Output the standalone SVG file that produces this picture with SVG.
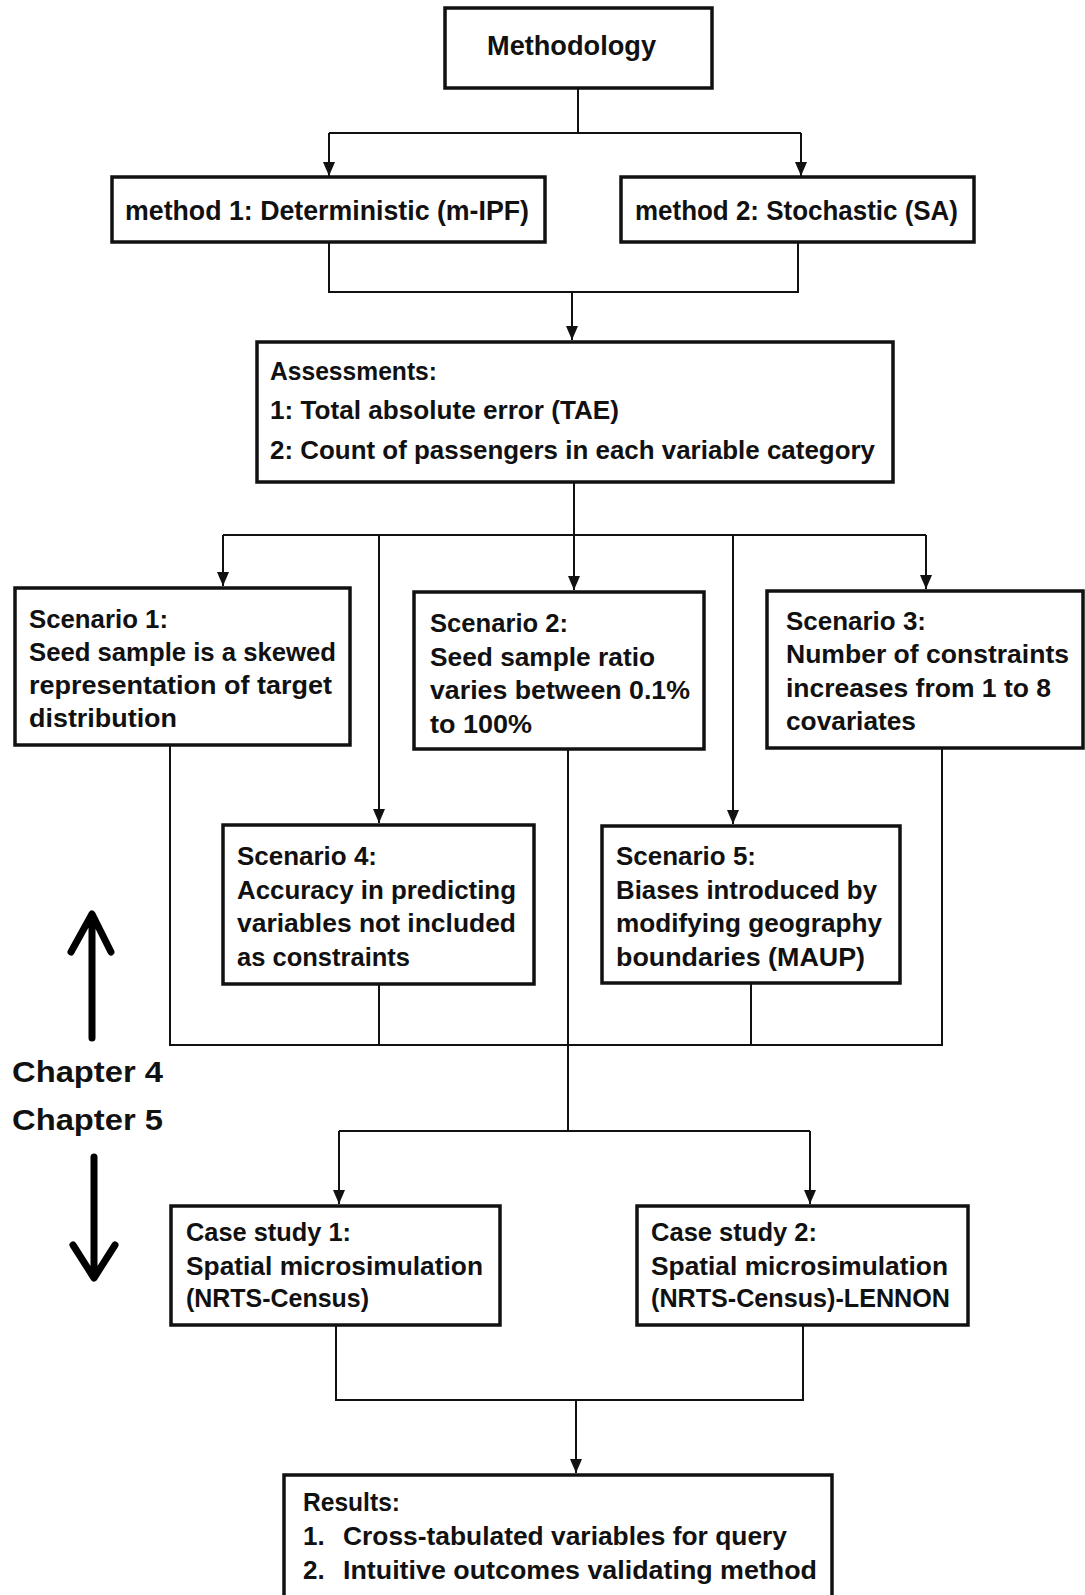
<svg xmlns="http://www.w3.org/2000/svg" width="1085" height="1595" viewBox="0 0 1085 1595">
  <style>
    .box { fill: #ffffff; stroke: #111111; stroke-width: 3.5; }
    .t { font-family: "Liberation Sans", Arial, sans-serif; font-weight: bold; font-size: 26px; fill: #111111; }
    .big { font-size: 27px; }
    .chap { font-size: 30px; }
    .link { fill: none; stroke: #111111; stroke-width: 2; }
    .flow { fill: none; stroke: #000000; stroke-width: 7; stroke-linecap: round; stroke-linejoin: round; }
  </style>
  <defs>
    <marker id="arrow" viewBox="0 0 14 12" refX="14" refY="6" markerWidth="14" markerHeight="12" markerUnits="userSpaceOnUse" orient="auto">
      <path d="M0,0 L14,6 L0,12 z" fill="#111111"/>
    </marker>
  </defs>
  <rect width="1085" height="1595" fill="#ffffff"/>

  <!-- connectors -->
  <g id="connectors">
    <path class="link" d="M578,88 V133 M329,133 H801"/>
    <path class="link" d="M329,133 V176" marker-end="url(#arrow)"/>
    <path class="link" d="M801,133 V176" marker-end="url(#arrow)"/>

    <path class="link" d="M329,242 V292 H798 V242"/>
    <path class="link" d="M572,292 V340" marker-end="url(#arrow)"/>

    <path class="link" d="M574,482 V590" marker-end="url(#arrow)"/>
    <path class="link" d="M223,535 H926"/>
    <path class="link" d="M223,535 V586" marker-end="url(#arrow)"/>
    <path class="link" d="M379,535 V823" marker-end="url(#arrow)"/>
    <path class="link" d="M733,535 V824" marker-end="url(#arrow)"/>
    <path class="link" d="M926,535 V589" marker-end="url(#arrow)"/>

    <path class="link" d="M170,745 V1045 H942 V748"/>
    <path class="link" d="M379,984 V1045 M751,983 V1045"/>
    <path class="link" d="M568,749 V1131 M339,1131 H810"/>
    <path class="link" d="M339,1131 V1204" marker-end="url(#arrow)"/>
    <path class="link" d="M810,1131 V1204" marker-end="url(#arrow)"/>

    <path class="link" d="M336,1325 V1400 H803 V1325"/>
    <path class="link" d="M576,1400 V1473" marker-end="url(#arrow)"/>
  </g>

  <g id="methodology">
    <rect class="box" x="445" y="8" width="267" height="80"/>
    <text class="t big" x="487" y="55" textLength="169" lengthAdjust="spacingAndGlyphs">Methodology</text>
  </g>

  <g id="method-1">
    <rect class="box" x="112" y="177" width="433" height="65"/>
    <text class="t big" x="125" y="220" textLength="404" lengthAdjust="spacingAndGlyphs">method 1: Deterministic (m-IPF)</text>
  </g>

  <g id="method-2">
    <rect class="box" x="621" y="177" width="353" height="65"/>
    <text class="t big" x="635" y="220" textLength="323" lengthAdjust="spacingAndGlyphs">method 2: Stochastic (SA)</text>
  </g>

  <g id="assessments">
    <rect class="box" x="257" y="342" width="636" height="140"/>
    <text class="t" x="270" y="380" textLength="167" lengthAdjust="spacingAndGlyphs">Assessments:</text>
    <text class="t" x="270" y="419" textLength="349" lengthAdjust="spacingAndGlyphs">1: Total absolute error (TAE)</text>
    <text class="t" x="270" y="459" textLength="605" lengthAdjust="spacingAndGlyphs">2: Count of passengers in each variable category</text>
  </g>

  <g id="scenario-1">
    <rect class="box" x="15" y="588" width="335" height="157"/>
    <text class="t" x="29" y="628" textLength="139" lengthAdjust="spacingAndGlyphs">Scenario 1:</text>
    <text class="t" x="29" y="661" textLength="307" lengthAdjust="spacingAndGlyphs">Seed sample is a skewed</text>
    <text class="t" x="29" y="694" textLength="303" lengthAdjust="spacingAndGlyphs">representation of target</text>
    <text class="t" x="29" y="727" textLength="148" lengthAdjust="spacingAndGlyphs">distribution</text>
  </g>

  <g id="scenario-2">
    <rect class="box" x="414" y="592" width="290" height="157"/>
    <text class="t" x="430" y="632" textLength="138" lengthAdjust="spacingAndGlyphs">Scenario 2:</text>
    <text class="t" x="430" y="665.5" textLength="225" lengthAdjust="spacingAndGlyphs">Seed sample ratio</text>
    <text class="t" x="430" y="699" textLength="260" lengthAdjust="spacingAndGlyphs">varies between 0.1%</text>
    <text class="t" x="430" y="732.5" textLength="102" lengthAdjust="spacingAndGlyphs">to 100%</text>
  </g>

  <g id="scenario-3">
    <rect class="box" x="767" y="591" width="316" height="157"/>
    <text class="t" x="786" y="630" textLength="140" lengthAdjust="spacingAndGlyphs">Scenario 3:</text>
    <text class="t" x="786" y="663" textLength="283" lengthAdjust="spacingAndGlyphs">Number of constraints</text>
    <text class="t" x="786" y="697" textLength="265" lengthAdjust="spacingAndGlyphs">increases from 1 to 8</text>
    <text class="t" x="786" y="730" textLength="130" lengthAdjust="spacingAndGlyphs">covariates</text>
  </g>

  <g id="scenario-4">
    <rect class="box" x="223" y="825" width="311" height="159"/>
    <text class="t" x="237" y="865" textLength="140" lengthAdjust="spacingAndGlyphs">Scenario 4:</text>
    <text class="t" x="237" y="898.5" textLength="279" lengthAdjust="spacingAndGlyphs">Accuracy in predicting</text>
    <text class="t" x="237" y="932" textLength="279" lengthAdjust="spacingAndGlyphs">variables not included</text>
    <text class="t" x="237" y="966" textLength="173" lengthAdjust="spacingAndGlyphs">as constraints</text>
  </g>

  <g id="scenario-5">
    <rect class="box" x="602" y="826" width="298" height="157"/>
    <text class="t" x="616" y="865" textLength="140" lengthAdjust="spacingAndGlyphs">Scenario 5:</text>
    <text class="t" x="616" y="898.5" textLength="261" lengthAdjust="spacingAndGlyphs">Biases introduced by</text>
    <text class="t" x="616" y="932" textLength="266" lengthAdjust="spacingAndGlyphs">modifying geography</text>
    <text class="t" x="616" y="966" textLength="249" lengthAdjust="spacingAndGlyphs">boundaries (MAUP)</text>
  </g>

  <g id="chapter-markers">
    <path class="flow" d="M92,1038 V916 M71,952 L92,914 L111,952"/>
    <text class="t chap" x="12" y="1082" textLength="151" lengthAdjust="spacingAndGlyphs">Chapter 4</text>
    <text class="t chap" x="12" y="1130" textLength="151" lengthAdjust="spacingAndGlyphs">Chapter 5</text>
    <path class="flow" d="M94,1157 V1276 M73,1245 L94,1278 L115,1245"/>
  </g>

  <g id="case-study-1">
    <rect class="box" x="171" y="1206" width="329" height="119"/>
    <text class="t" x="186" y="1241" textLength="165" lengthAdjust="spacingAndGlyphs">Case study 1:</text>
    <text class="t" x="186" y="1275" textLength="297" lengthAdjust="spacingAndGlyphs">Spatial microsimulation</text>
    <text class="t" x="186" y="1307" textLength="183" lengthAdjust="spacingAndGlyphs">(NRTS-Census)</text>
  </g>

  <g id="case-study-2">
    <rect class="box" x="637" y="1206" width="331" height="119"/>
    <text class="t" x="651" y="1241" textLength="166" lengthAdjust="spacingAndGlyphs">Case study 2:</text>
    <text class="t" x="651" y="1275" textLength="297" lengthAdjust="spacingAndGlyphs">Spatial microsimulation</text>
    <text class="t" x="651" y="1307" textLength="299" lengthAdjust="spacingAndGlyphs">(NRTS-Census)-LENNON</text>
  </g>

  <g id="results">
    <rect class="box" x="284" y="1475" width="548" height="140"/>
    <text class="t" x="303" y="1511" textLength="97" lengthAdjust="spacingAndGlyphs">Results:</text>
    <text class="t" x="303" y="1545">1.</text>
    <text class="t" x="343" y="1545" textLength="444" lengthAdjust="spacingAndGlyphs">Cross-tabulated variables for query</text>
    <text class="t" x="303" y="1579">2.</text>
    <text class="t" x="343" y="1579" textLength="474" lengthAdjust="spacingAndGlyphs">Intuitive outcomes validating method</text>
  </g>
</svg>
